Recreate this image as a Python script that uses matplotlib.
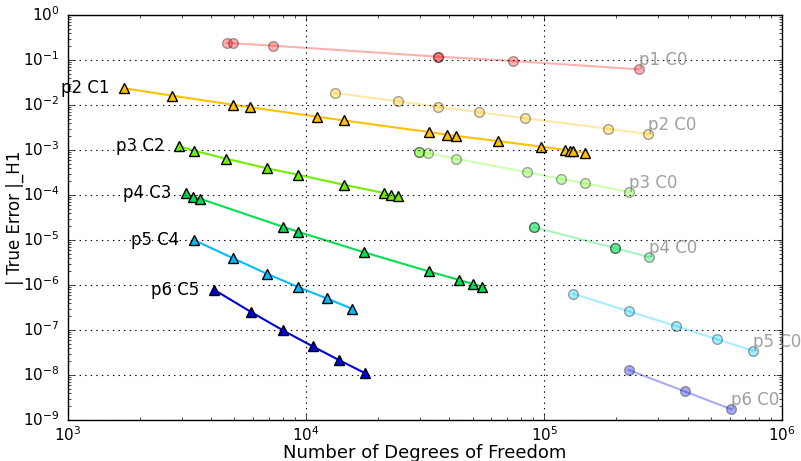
import matplotlib
matplotlib.use('Agg')
import matplotlib.pyplot as plt

plt.style.use('classic')
plt.rcParams['figure.facecolor'] = 'white'
plt.rcParams['savefig.facecolor'] = 'white'

# continuous (C0) results
p1_c0_dofs = [4634, 4911, 7228, 35940, 35940, 74160, 248900]
p1_c0_err = [0.243, 0.235, 0.208, 0.1185, 0.1185, 0.095, 0.0621]
p2_c0_dofs = [13190, 24320, 35940, 53170, 83300, 184900, 274000]
p2_c0_err = [0.0185, 0.01208, 0.00903, 0.00689, 0.00506, 0.00297, 0.00227]
p3_c0_dofs = [29700, 29700, 32630, 42590, 84900, 117500, 148700, 226600]
p3_c0_err = [9.18e-4, 9.18e-4, 8.44e-4, 6.41e-4, 3.19e-4, 2.27e-4, 1.82e-4, 1.166e-4]
p4_c0_dofs = [90850, 90850, 198000, 198000, 274900]
p4_c0_err = [1.91e-5, 1.91e-5, 6.64e-6, 6.64e-6, 4.19e-6]
p5_c0_dofs = [132400, 226600, 357000, 532600, 753000]
p5_c0_err = [6.41e-7, 2.60e-7, 1.23e-7, 6.21e-8, 3.47e-8]
p6_c0_dofs = [226600, 388300, 611000]
p6_c0_err = [1.29e-8, 4.34e-9, 1.73e-9]

# smooth (C^{p-1}) results
p2_c1_dofs = [1723, 2740, 4911, 5821, 11120, 14390, 32730, 39200, 42740, 63900,
              97200, 122700, 127900, 131900, 148200]
p2_c1_err = [0.0235, 0.0161, 0.01016, 0.00889, 0.0055, 0.00453, 0.00251, 0.00219,
             0.00205, 0.00158, 0.001185, 0.001, 0.000965, 0.00095, 0.00087]
p3_c2_dofs = [2931, 3379, 4603, 6858, 9226, 14390, 21180, 22650, 24320]
p3_c2_err = [1.21e-3, 9.66e-4, 6.41e-4, 3.92e-4, 2.83e-4, 1.69e-4, 1.11e-4, 1.02e-4, 9.35e-5]
p4_c3_dofs = [3136, 3357, 3581, 7960, 9226, 17540, 32730, 44020, 50400, 54800]
p4_c3_err = [1.09e-4, 9.03e-5, 8.28e-5, 1.98e-5, 1.53e-5, 5.32e-6, 2.01e-6, 1.29e-6, 1.05e-6, 9.19e-7]
p5_c4_dofs = [3379, 4911, 6839, 9250, 12180, 15550]
p5_c4_err = [1.0e-5, 3.98e-6, 1.78e-6, 9.03e-7, 5.06e-7, 2.98e-7]
p6_c5_dofs = [4100, 5845, 7985, 10640, 13810, 17630]
p6_c5_err = [7.87e-7, 2.55e-7, 9.85e-8, 4.34e-8, 2.12e-8, 1.107e-8]

c0_series = [('p1 C0', p1_c0_dofs, p1_c0_err, '#ff2020'),
             ('p2 C0', p2_c0_dofs, p2_c0_err, '#ffc000'),
             ('p3 C0', p3_c0_dofs, p3_c0_err, '#70ff20'),
             ('p4 C0', p4_c0_dofs, p4_c0_err, '#00e050'),
             ('p5 C0', p5_c0_dofs, p5_c0_err, '#00ccff'),
             ('p6 C0', p6_c0_dofs, p6_c0_err, '#1010e0')]
smooth_series = [('p2 C1', p2_c1_dofs, p2_c1_err, '#ffc000'),
                 ('p3 C2', p3_c2_dofs, p3_c2_err, '#70ee00'),
                 ('p4 C3', p4_c3_dofs, p4_c3_err, '#00e050'),
                 ('p5 C4', p5_c4_dofs, p5_c4_err, '#00bbff'),
                 ('p6 C5', p6_c5_dofs, p6_c5_err, '#0000e0')]

fig = plt.figure(figsize=(8.01, 4.61), dpi=100)
ax = fig.add_axes([0.0849, 0.0889, 0.8918, 0.8786])

for name, x, y, col in c0_series:
    ax.loglog(x, y, '-o', color=col, alpha=0.35, lw=1.5, ms=7,
              mec='k', mew=1.0)
    ax.text(x[-1], y[-1], name, color='gray', alpha=0.75, fontsize=12,
            ha='left', va='bottom')

for name, x, y, col in smooth_series:
    ax.loglog(x, y, '-^', color=col, lw=1.5, ms=7, mec='k', mew=1.0)
    ax.text(x[0] / 1.15, y[0], name, color='k', fontsize=12,
            ha='right', va='center')

ax.set_xlim(1e3, 1e6)
ax.set_ylim(1e-9, 1)
ax.grid(True, which='major', color='k', linestyle=':', linewidth=0.8)
ax.set_xlabel('Number of Degrees of Freedom', fontsize=13)
ax.xaxis.set_label_coords(0.5, -0.06)
ax.set_ylabel('| True Error |_H1', fontsize=12)
ax.yaxis.set_label_coords(-0.062, 0.5)
ax.tick_params(labelsize=11)
ax.tick_params(axis='x', pad=4)
ax.tick_params(axis='y', pad=6)

fig.savefig('out.png', dpi=100)
